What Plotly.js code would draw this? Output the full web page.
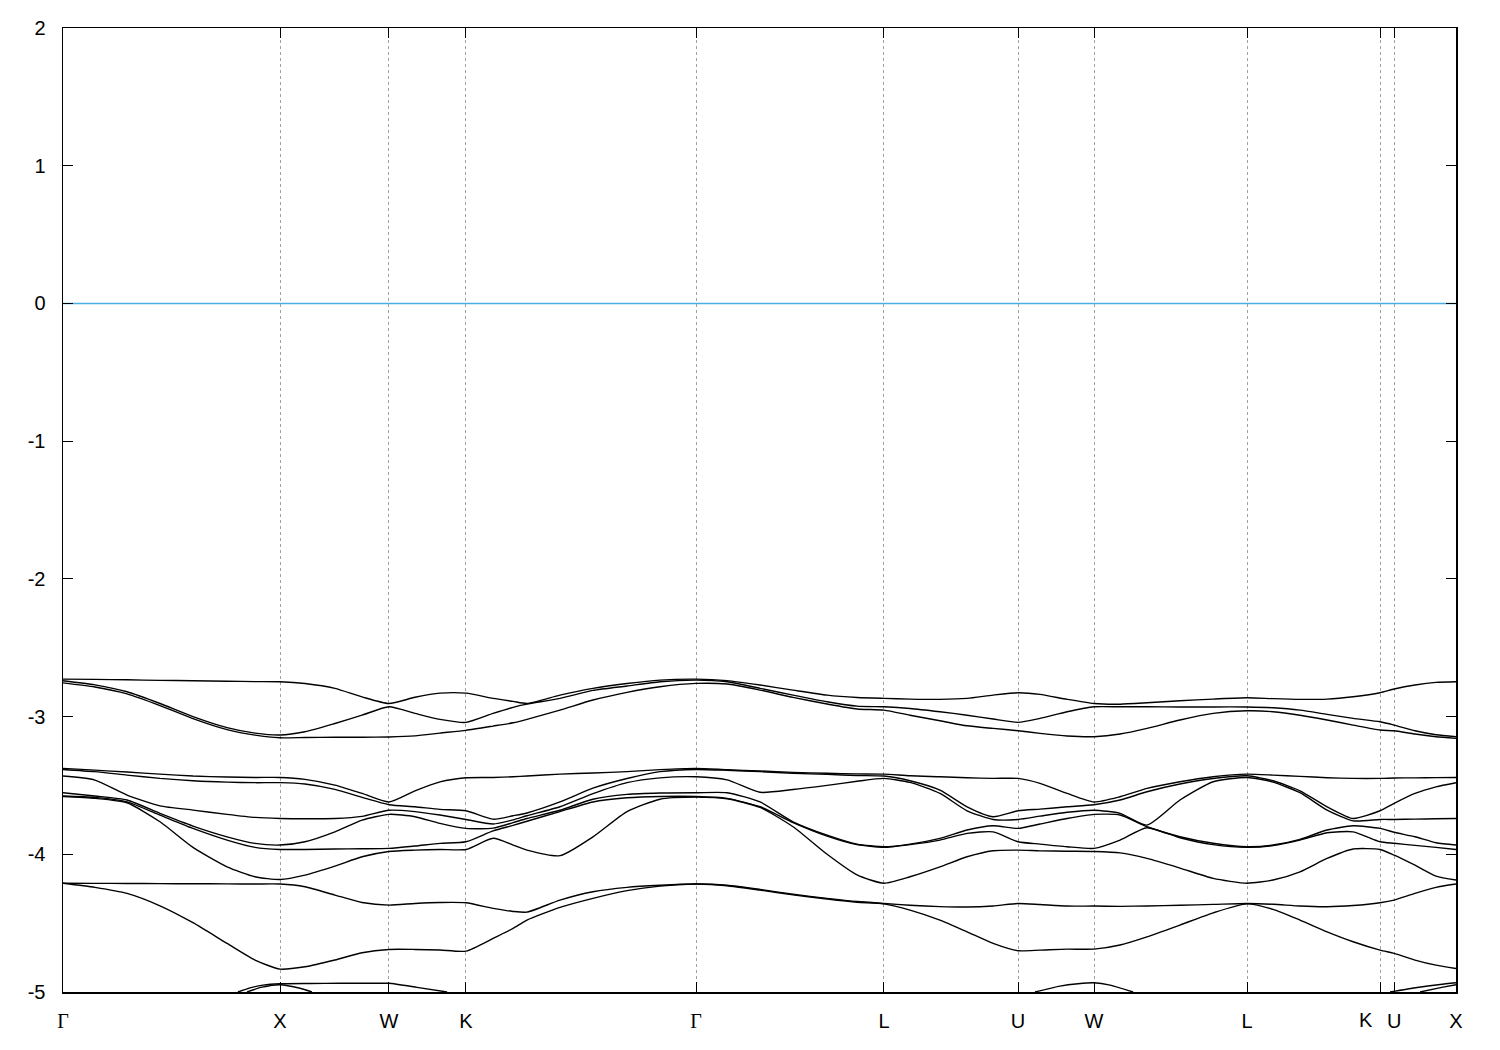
<!DOCTYPE html>
<html>
<head>
<meta charset="utf-8">
<script src="https://cdn.plot.ly/plotly-3.0.1.min.js"></script>
<style>html,body{margin:0;padding:0;background:#fff;}#chart{width:1500px;height:1050px;}</style>
</head>
<body>
<div id="chart"></div>
<script>
// High-symmetry points along the k-path
const kTicks = [0, 1.0, 1.502, 1.857, 2.917, 3.783, 4.401, 4.751, 5.456, 6.069, 6.134, 6.419];
const kLabels = ['Γ', 'X', 'W', 'K', 'Γ', 'L', 'U', 'W', 'L', 'K', 'U', 'X'];
const yTicks = [-5, -4, -3, -2, -1, 0, 1, 2];
const yLabels = ['-5', '-4', '-3', '-2', '-1', '0', '1', '2'];
const fermiLevel = 0;

// sampled k positions (path coordinate)
const kPath = [
  0, 0.147, 0.295, 0.447, 0.599, 0.756, 0.885, 1.0,
  1.115, 1.253, 1.378, 1.502,
  1.622, 1.737, 1.857,
  1.982, 2.074, 2.138, 2.290, 2.442, 2.599, 2.751, 2.917,
  3.060, 3.212, 3.364, 3.521, 3.659, 3.783,
  3.903, 4.041, 4.166, 4.286, 4.401,
  4.502, 4.627, 4.751,
  4.871, 4.995, 5.147, 5.300, 5.456,
  5.576, 5.700, 5.825, 5.945, 6.069,
  6.134, 6.230, 6.327, 6.419
];

// band energies (eV), sorted from highest
const band1 = [
  -2.728, -2.730, -2.733, -2.737, -2.740, -2.743, -2.746, -2.747,
  -2.760, -2.795, -2.857, -2.905,
  -2.860, -2.830, -2.830,
  -2.868, -2.890, -2.905, -2.844, -2.795, -2.760, -2.735, -2.728,
  -2.739, -2.771, -2.808, -2.844, -2.861, -2.868,
  -2.873, -2.875, -2.868, -2.844, -2.827,
  -2.839, -2.875, -2.905,
  -2.910, -2.900, -2.885, -2.873, -2.863,
  -2.870, -2.875, -2.873, -2.856, -2.827,
  -2.800, -2.771, -2.752, -2.747
];
const band2 = [
  -2.740, -2.770, -2.820, -2.905, -3.000, -3.080, -3.120, -3.134,
  -3.110, -3.050, -2.990, -2.929,
  -2.977, -3.020, -3.042,
  -2.977, -2.933, -2.910, -2.868, -2.810, -2.778, -2.747, -2.735,
  -2.747, -2.795, -2.844, -2.892, -2.924, -2.929,
  -2.941, -2.965, -2.990, -3.018, -3.042,
  -3.013, -2.965, -2.929,
  -2.929, -2.929, -2.930, -2.930, -2.930,
  -2.936, -2.953, -2.984, -3.013, -3.038,
  -3.062, -3.103, -3.132, -3.146
];
const band3 = [
  -2.755, -2.785, -2.835, -2.920, -3.015, -3.095, -3.135, -3.154,
  -3.152, -3.150, -3.150, -3.148,
  -3.140, -3.120, -3.100,
  -3.069, -3.045, -3.020, -2.953, -2.880, -2.824, -2.783, -2.759,
  -2.764, -2.808, -2.861, -2.909, -2.945, -2.953,
  -2.990, -3.030, -3.067, -3.086, -3.103,
  -3.122, -3.141, -3.146,
  -3.127, -3.086, -3.025, -2.977, -2.958,
  -2.965, -2.990, -3.025, -3.062, -3.098,
  -3.103, -3.127, -3.146, -3.158
];
const band4 = [
  -3.376, -3.389, -3.403, -3.418, -3.432, -3.439, -3.442, -3.442,
  -3.456, -3.498, -3.558, -3.620,
  -3.539, -3.474, -3.444,
  -3.442, -3.437, -3.432, -3.418, -3.410, -3.400, -3.385, -3.376,
  -3.386, -3.395, -3.405, -3.412, -3.416, -3.418,
  -3.430, -3.437, -3.444, -3.449, -3.449,
  -3.485, -3.558, -3.620,
  -3.582, -3.521, -3.473, -3.437, -3.418,
  -3.425, -3.434, -3.444, -3.449, -3.449,
  -3.446, -3.445, -3.443, -3.442
];
const band5 = [
  -3.384, -3.400, -3.425, -3.449, -3.466, -3.476, -3.480, -3.480,
  -3.490, -3.529, -3.587, -3.640,
  -3.655, -3.674, -3.684,
  -3.745, -3.720, -3.700, -3.620, -3.520, -3.450, -3.400, -3.384,
  -3.390, -3.400, -3.412, -3.420, -3.428, -3.432,
  -3.466, -3.534, -3.655, -3.727, -3.684,
  -3.672, -3.655, -3.640,
  -3.606, -3.546, -3.490, -3.450, -3.430,
  -3.466, -3.539, -3.655, -3.740, -3.684,
  -3.630, -3.558, -3.510, -3.480
];
const band6 = [
  -3.432, -3.461, -3.570, -3.648, -3.679, -3.710, -3.732, -3.740,
  -3.742, -3.740, -3.725, -3.680,
  -3.690, -3.715, -3.747,
  -3.780, -3.750, -3.720, -3.655, -3.560, -3.480, -3.445, -3.437,
  -3.460, -3.550, -3.530, -3.500, -3.470, -3.449,
  -3.478, -3.558, -3.684, -3.747, -3.747,
  -3.723, -3.695, -3.680,
  -3.703, -3.788, -3.606, -3.473, -3.442,
  -3.476, -3.553, -3.679, -3.757, -3.747,
  -3.747, -3.745, -3.742, -3.740
];
const band7 = [
  -3.553, -3.577, -3.606, -3.703, -3.795, -3.873, -3.921, -3.933,
  -3.909, -3.837, -3.752, -3.710,
  -3.727, -3.776, -3.812,
  -3.810, -3.770, -3.740, -3.680, -3.600, -3.565, -3.555, -3.553,
  -3.553, -3.620, -3.764, -3.861, -3.926, -3.945,
  -3.926, -3.884, -3.824, -3.793, -3.812,
  -3.780, -3.740, -3.710,
  -3.715, -3.800, -3.873, -3.920, -3.945,
  -3.933, -3.892, -3.824, -3.793, -3.812,
  -3.840, -3.873, -3.916, -3.933
];
const band8 = [
  -3.577, -3.587, -3.619, -3.715, -3.812, -3.897, -3.950, -3.965,
  -3.965, -3.962, -3.960, -3.957,
  -3.940, -3.921, -3.909,
  -3.830, -3.790, -3.760, -3.690, -3.620, -3.590, -3.580, -3.580,
  -3.594, -3.655, -3.770, -3.868, -3.930, -3.950,
  -3.930, -3.897, -3.848, -3.837, -3.909,
  -3.926, -3.945, -3.957,
  -3.897, -3.807, -3.880, -3.930, -3.950,
  -3.937, -3.897, -3.844, -3.837, -3.909,
  -3.920, -3.935, -3.950, -3.965
];
const band9 = [
  -3.580, -3.594, -3.626, -3.764, -3.950, -4.091, -4.163, -4.183,
  -4.151, -4.086, -4.018, -3.980,
  -3.970, -3.965, -3.965,
  -3.884, -3.933, -3.970, -4.010, -3.873, -3.690, -3.600, -3.585,
  -3.597, -3.660, -3.800, -4.000, -4.150, -4.210,
  -4.163, -4.091, -4.018, -3.974, -3.970,
  -3.975, -3.978, -3.980,
  -3.990, -4.030, -4.100, -4.175, -4.210,
  -4.187, -4.127, -4.030, -3.962, -3.965,
  -4.006, -4.079, -4.158, -4.187
];
const band10 = [
  -4.210, -4.211, -4.212, -4.213, -4.214, -4.215, -4.216, -4.216,
  -4.236, -4.296, -4.350, -4.369,
  -4.357, -4.350, -4.352,
  -4.393, -4.415, -4.420, -4.333, -4.272, -4.240, -4.225, -4.216,
  -4.225, -4.255, -4.290, -4.320, -4.343, -4.357,
  -4.370, -4.380, -4.383, -4.375, -4.357,
  -4.365, -4.376, -4.376,
  -4.378, -4.375, -4.370, -4.364, -4.357,
  -4.363, -4.376, -4.381, -4.372, -4.352,
  -4.333, -4.284, -4.240, -4.216
];
const band11 = [
  -4.210, -4.240, -4.284, -4.374, -4.497, -4.647, -4.768, -4.834,
  -4.817, -4.768, -4.715, -4.691,
  -4.691, -4.695, -4.703,
  -4.611, -4.538, -4.478, -4.386, -4.320, -4.264, -4.231, -4.216,
  -4.228, -4.260, -4.295, -4.325, -4.348, -4.360,
  -4.405, -4.478, -4.563, -4.647, -4.700,
  -4.696, -4.689, -4.689,
  -4.659, -4.600, -4.514, -4.425, -4.360,
  -4.400, -4.478, -4.563, -4.635, -4.696,
  -4.720, -4.768, -4.805, -4.829
];

// visible tops of the deeper bands (only the parts above -5 eV)
const lowA_k = [0.806, 0.862, 0.922, 1.0, 1.138, 1.276, 1.415, 1.502, 1.631, 1.770];
const lowA_e = [-5.0, -4.97, -4.95, -4.94, -4.938, -4.937, -4.937, -4.937, -4.966, -5.0];
const lowB_k = [0.848, 0.917, 1.0, 1.092, 1.147];
const lowB_e = [-5.0, -4.965, -4.947, -4.973, -5.0];
const lowC_k = [4.479, 4.594, 4.677, 4.751, 4.825, 4.931];
const lowC_e = [-5.0, -4.957, -4.94, -4.933, -4.95, -5.0];
const lowD_k = [6.115, 6.240, 6.346, 6.419];
const lowD_e = [-5.0, -4.967, -4.945, -4.933];
const lowE_k = [6.253, 6.359, 6.419];
const lowE_e = [-5.0, -4.965, -4.947];

const bands = [band1, band2, band3, band4, band5, band6, band7, band8, band9, band10, band11];
const lowPieces = [[lowA_k, lowA_e], [lowB_k, lowB_e], [lowC_k, lowC_e], [lowD_k, lowD_e], [lowE_k, lowE_e]];

const lineStyle = {color: 'black', width: 1.4, shape: 'spline', smoothing: 0.6};
const traces = [];
traces.push({
  x: [kTicks[0], kTicks[kTicks.length - 1]],
  y: [fermiLevel, fermiLevel],
  mode: 'lines', line: {color: '#4aaee3', width: 1.5}, hoverinfo: 'skip'
});
bands.forEach(b => traces.push({x: kPath, y: b, mode: 'lines', line: lineStyle, hoverinfo: 'skip'}));
lowPieces.forEach(p => traces.push({x: p[0], y: p[1], mode: 'lines', line: lineStyle, hoverinfo: 'skip'}));

const font = {family: 'Liberation Sans, Arial, sans-serif', size: 20, color: 'black'};
// the second K label is drawn a little to the left of its tick (as in the original) so it clears U
const shiftedIndex = 9;
const tickText = kLabels.map((l, i) => {
  if (i === shiftedIndex) return '';
  return l === 'Γ' ? '<span style="font-family:\'Liberation Serif\', serif">Γ</span>' : l;
});

const layout = {
  width: 1500, height: 1050,
  margin: {l: 63, r: 44, t: 28, b: 58, pad: 0},
  paper_bgcolor: 'white', plot_bgcolor: 'white',
  showlegend: false,
  font: font,
  xaxis: {
    range: [kTicks[0], kTicks[kTicks.length - 1]],
    tickmode: 'array', tickvals: kTicks, ticktext: tickText, tickangle: 0,
    ticks: 'inside', ticklen: 10, tickwidth: 1, tickcolor: 'black',
    showline: true, linecolor: 'black', linewidth: 1.5, mirror: 'ticks',
    showgrid: true, gridcolor: '#a0a0a0', gridwidth: 1, griddash: '3px,3px',
    zeroline: false, tickfont: font, ticklabelstandoff: 10
  },
  yaxis: {
    range: [-5, 2],
    tickmode: 'array', tickvals: yTicks, ticktext: yLabels, tickangle: 0,
    ticks: 'inside', ticklen: 10, tickwidth: 1, tickcolor: 'black',
    showline: true, linecolor: 'black', linewidth: 1.5, mirror: 'ticks',
    showgrid: false, zeroline: false, tickfont: font, ticklabelstandoff: 12
  },
  annotations: [{
    text: kLabels[shiftedIndex], x: kTicks[shiftedIndex], xref: 'x',
    y: 0, yref: 'paper', yanchor: 'top', xanchor: 'center',
    xshift: -14, yshift: -15, showarrow: false, font: font
  }]
};

Plotly.newPlot('chart', traces, layout, {staticPlot: true, displayModeBar: false});
</script>
</body>
</html>
